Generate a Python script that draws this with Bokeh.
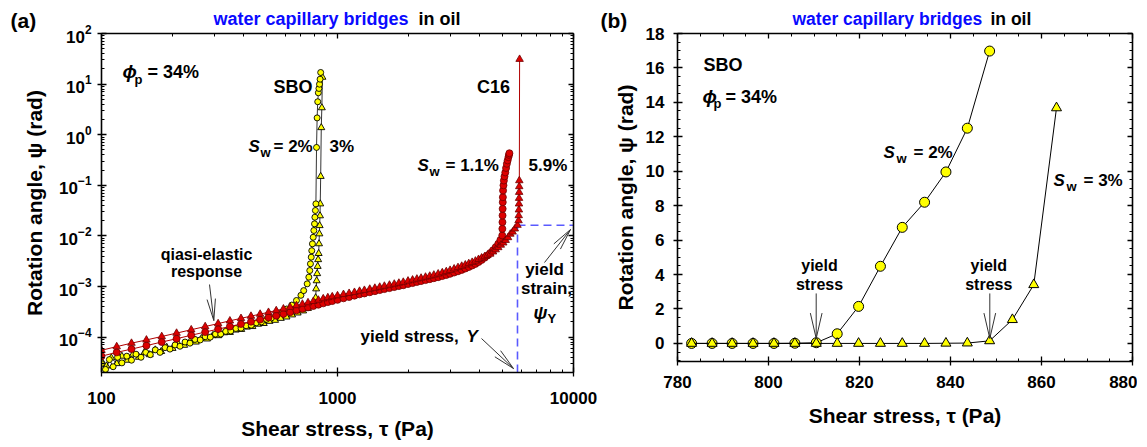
import math
from bokeh.plotting import figure
from bokeh.layouts import row, column
from bokeh.models import (Label, FixedTicker, LogAxis, LinearAxis, LogTickFormatter,
                          BasicTickFormatter, CustomJSTickFormatter, Range1d)
from bokeh.embed import file_html
from bokeh.resources import INLINE

FONT = "Liberation Sans"

# ---------------- data, panel (a): rotation angle vs shear stress (log-log) ----------------
# SBO, S_w = 2 %  (yellow circles)
sbo2_tau = [100, 104, 108, 112, 117, 122, 128, 134, 140, 147,
            154, 161, 169, 177, 186, 195, 205, 215, 226, 237,
            249, 262, 275, 289, 304, 320, 336, 353, 371, 390,
            410, 431, 453, 476, 500, 525, 552, 580, 610, 640,
            670, 700,
            719, 744, 756, 763, 768, 774, 778, 783, 789, 794,
            799, 802, 806, 810,
            815.1, 819.8, 824.6, 829.4, 834.3, 839.0, 843.7, 848.6]
sbo2_psi = [3.0e-5, 2.3e-5, 3.6e-5, 2.6e-5, 4.0e-5, 3.1e-5, 4.2e-5, 3.5e-5, 4.6e-5, 4.0e-5,
            5.0e-5, 4.5e-5, 5.6e-5, 5.0e-5, 6.2e-5, 5.8e-5, 7.0e-5, 6.6e-5, 8.0e-5, 7.6e-5,
            9.0e-5, 8.8e-5, 1.02e-4, 1.0e-4, 1.15e-4, 1.15e-4, 1.3e-4, 1.32e-4, 1.48e-4, 1.5e-4,
            1.68e-4, 1.72e-4, 1.92e-4, 2.0e-4, 2.25e-4, 2.4e-4, 2.7e-4, 3.0e-4, 3.6e-4, 4.3e-4,
            5.3e-4, 6.7e-4,
            8.3e-4, 1.13e-3, 1.53e-3, 2.07e-3, 2.81e-3, 3.8e-3, 5.1e-3, 6.98e-3, 9.4e-3, 1.28e-2,
            1.73e-2, 2.34e-2, 3.18e-2, 4.3e-2,
            0.56, 2.15, 4.48, 6.74, 8.2, 9.96, 12.5, 16.98]

# SBO, S_w = 3 %  (yellow triangles)
sbo3_tau = [100, 105, 110, 116, 122, 129, 136, 144, 152, 160,
            169, 179, 189, 200, 212, 224, 237, 251, 265, 280,
            296, 313, 331, 350, 370, 391, 413, 436, 461, 487,
            515, 544, 575, 608, 642, 678, 715, 750, 780, 800,
            808, 812, 816, 820, 824, 828, 832, 835, 838, 840,
            843, 845, 848.6, 853.6, 858.3, 863.3]
sbo3_psi = [3.4e-5, 2.7e-5, 3.9e-5, 3.0e-5, 4.2e-5, 3.5e-5, 4.6e-5, 4.0e-5, 5.0e-5, 4.5e-5,
            5.6e-5, 5.2e-5, 6.3e-5, 6.0e-5, 7.2e-5, 6.9e-5, 8.2e-5, 8.0e-5, 9.4e-5, 9.2e-5,
            1.07e-4, 1.07e-4, 1.22e-4, 1.24e-4, 1.38e-4, 1.42e-4, 1.58e-4, 1.62e-4, 1.8e-4, 1.86e-4,
            2.05e-4, 2.15e-4, 2.35e-4, 2.5e-4, 2.75e-4, 3.0e-4, 3.3e-4, 3.7e-4, 4.3e-4, 5.2e-4,
            6.0e-4, 9.0e-4, 1.3e-3, 1.8e-3, 2.5e-3, 3.4e-3, 4.5e-3, 7.0e-3, 1.1e-2, 1.6e-2,
            2.5e-2, 4.3e-2, 0.15, 1.38, 3.41, 13.68]

# C16, S_w = 5.9 %  (red triangles)
c16b_tau = [100, 116, 134, 155, 180, 208, 240, 275, 312, 350,
            390, 430, 470, 510, 550, 590, 630, 670, 710, 750,
            790, 830, 870, 910, 950,
            1000, 1060, 1120, 1180, 1240, 1300, 1370, 1440, 1510, 1580,
            1660, 1740, 1820, 1900, 1990, 2080, 2170, 2260, 2360, 2460,
            2560, 2670, 2780, 2890, 3000, 3120, 3240, 3360, 3480, 3600,
            3720, 3840, 3960, 4080, 4200, 4320, 4440, 4560, 4680, 4800,
            4920, 5040, 5160, 5280, 5400, 5520, 5640, 5790,
            5850, 5860, 5870, 5875, 5880, 5885, 5890, 5895,
            5910]
c16b_psi = [5.5e-5, 6.5e-5, 7.6e-5, 8.8e-5, 1.03e-4, 1.2e-4, 1.4e-4, 1.62e-4, 1.85e-4, 2.1e-4,
            2.35e-4, 2.6e-4, 2.85e-4, 3.1e-4, 3.35e-4, 3.62e-4, 3.9e-4, 4.2e-4, 4.5e-4, 4.8e-4,
            5.1e-4, 5.4e-4, 5.75e-4, 6.05e-4, 6.3e-4,
            6.6e-4, 7.0e-4, 7.35e-4, 7.7e-4, 8.1e-4, 8.45e-4, 8.9e-4, 9.3e-4, 9.75e-4, 1.02e-3,
            1.07e-3, 1.12e-3, 1.17e-3, 1.22e-3, 1.29e-3, 1.35e-3, 1.41e-3, 1.47e-3, 1.54e-3, 1.61e-3,
            1.69e-3, 1.78e-3, 1.88e-3, 1.98e-3, 2.1e-3, 2.24e-3, 2.38e-3, 2.53e-3, 2.68e-3, 2.85e-3,
            3.02e-3, 3.2e-3, 3.45e-3, 3.68e-3, 3.9e-3, 4.15e-3, 4.4e-3, 4.85e-3, 5.35e-3, 5.9e-3,
            6.6e-3, 7.3e-3, 8.2e-3, 9.3e-3, 1.09e-2, 1.2e-2, 1.38e-2, 1.63e-2,
            2.01e-2, 2.53e-2, 3.28e-2, 4.3e-2, 5.56e-2, 7.3e-2, 9.46e-2, 1.24e-1,
            31.0]

# C16, S_w = 1.1 %  (red circles)
c16a_tau = [100, 116, 134, 155, 180, 208, 240, 275, 312, 350,
            390, 430, 470, 510, 550, 590, 630, 670, 710, 750,
            790, 830, 870, 910, 950,
            1000, 1060, 1120, 1180, 1240, 1300, 1370, 1440, 1510, 1580,
            1660, 1740, 1820, 1900, 1990, 2080, 2170, 2260, 2360, 2460,
            2560, 2670, 2780, 2890, 3000, 3120, 3240, 3360, 3480, 3600,
            3720, 3840, 3960, 4080, 4200, 4320, 4440, 4560, 4680, 4800,
            4900, 4990,
            4995, 5000, 5005, 5010, 5015, 5020, 5030, 5050, 5070, 5100,
            5140, 5180, 5220, 5260, 5300, 5330, 5350]
c16a_psi = [4.2e-5, 5.0e-5, 5.8e-5, 6.8e-5, 8.0e-5, 9.3e-5, 1.09e-4, 1.26e-4, 1.44e-4, 1.62e-4,
            1.82e-4, 2.02e-4, 2.22e-4, 2.44e-4, 2.66e-4, 2.88e-4, 3.1e-4, 3.38e-4, 3.62e-4, 3.88e-4,
            4.12e-4, 4.37e-4, 4.65e-4, 4.92e-4, 5.15e-4,
            5.45e-4, 5.85e-4, 6.2e-4, 6.6e-4, 7.0e-4, 7.3e-4, 7.7e-4, 8.1e-4, 8.5e-4, 8.9e-4,
            9.3e-4, 9.75e-4, 1.02e-3, 1.06e-3, 1.12e-3, 1.17e-3, 1.23e-3, 1.28e-3, 1.34e-3, 1.4e-3,
            1.46e-3, 1.53e-3, 1.61e-3, 1.69e-3, 1.78e-3, 1.89e-3, 2.0e-3, 2.13e-3, 2.27e-3, 2.43e-3,
            2.6e-3, 2.8e-3, 3.05e-3, 3.35e-3, 3.7e-3, 4.1e-3, 4.6e-3, 5.2e-3, 6.0e-3, 7.0e-3,
            8.3e-3, 1.02e-2,
            1.38e-2, 1.87e-2, 2.53e-2, 3.43e-2, 4.64e-2, 5.82e-2, 7.88e-2, 0.1, 0.124, 0.15,
            0.18, 0.22, 0.266, 0.31, 0.36, 0.40, 0.43]

# yield point of the C16 5.9 % curve (dashed guide lines)
yield_stress_Y = 5790
yield_strain_psiY = 0.0163

# ---------------- data, panel (b): SBO, linear axes ----------------
b2_tau = [783.1, 787.6, 792.0, 796.6, 801.2, 805.8, 810.5, 815.1, 819.8, 824.6,
          829.4, 834.3, 839.0, 843.7, 848.6]
b2_psi = [0.0, 0.0, 0.0, 0.0, 0.0, 0.01, 0.04, 0.56, 2.15, 4.48,
          6.74, 8.2, 9.96, 12.5, 16.98]
b3_tau = [783.1, 787.6, 792.0, 796.6, 801.2, 805.8, 810.5, 815.1, 819.8, 824.6,
          829.4, 834.3, 839.0, 843.7, 848.6, 853.6, 858.3, 863.3]
b3_psi = [0.0, 0.0, 0.0, 0.0, 0.0, 0.0, 0.0, 0.0, 0.0, 0.0,
          0.0, 0.0, 0.01, 0.02, 0.15, 1.38, 3.41, 13.68]

# tick values
a_x_major = [100, 1000, 10000]
a_y_major = [1e-4, 1e-3, 1e-2, 1e-1, 1.0, 10.0, 100.0]
b_x_major = [780, 800, 820, 840, 860, 880]
b_y_major = [0, 2, 4, 6, 8, 10, 12, 14, 16, 18]

a_x_minor = [m * 10.0 ** e for e in (2, 3) for m in range(2, 10)]
a_y_minor = [m * 10.0 ** e for e in range(-5, 2) for m in range(2, 10) if m * 10.0 ** e >= 2e-5]
b_x_minor = list(range(780, 881, 5))
b_y_minor = [v / 2 for v in range(-2, 37)]

YELLOW = "#ffff00"
RED_FILL = "#dd0000"
RED_EDGE = "#700000"
RED_LINE = "#b00000"
BLUE = "#0a0aff"
GUIDE = "#5a5aff"


# placement helpers (reference-pixel position -> data coordinate), for annotations only
def a_x(px):
    return 100 * 10 ** ((px - 101) / 236.0)


def a_y(py):
    return 10 ** (2 - (py - 33) / 50.6)


def b_x(px):
    return 780 + (px - 677) / 4.55


def b_y(py):
    return (342 - py) / 17.22


def ident(v):
    return v


def style_axis(ax):
    ax.axis_line_color = "black"
    ax.axis_line_width = 1.6
    ax.major_tick_line_color = "black"
    ax.major_tick_line_width = 1.3
    ax.minor_tick_line_color = "black"
    ax.minor_tick_line_width = 1
    ax.major_tick_in = 5
    ax.major_tick_out = 4
    ax.minor_tick_in = 3
    ax.minor_tick_out = 0
    ax.major_label_text_font = FONT
    ax.major_label_text_font_style = "bold"
    ax.major_label_text_font_size = "17px"
    ax.major_label_text_color = "black"
    ax.axis_label_text_font = FONT
    ax.axis_label_text_font_style = "bold"
    ax.axis_label_text_font_size = "21px"
    ax.axis_label_text_color = "black"


def mirror_axis(ax):
    style_axis(ax)
    ax.major_tick_out = 0
    ax.major_label_standoff = 0
    ax.major_label_text_font_size = "0px"


def blank_formatter():
    return CustomJSTickFormatter(code="return ''")


def put(p, fx, fy, px, py, text, size=18, style="bold", color="black", align="left"):
    # py is the text baseline in page pixels; the label is anchored at its middle
    p.add_layout(Label(x=fx(px), y=fy(py - 0.36 * size), text=text, text_font=FONT,
                       text_font_size=f"{size}px", text_font_style=style, text_color=color,
                       text_align=align, text_baseline="middle"))


def arrow(p, fx, fy, start, tip, barb=22, ang=11, color="#333333"):
    sx, sy = start
    tx, ty = tip
    dx, dy = tx - sx, ty - sy
    L = math.hypot(dx, dy)
    ux, uy = dx / L, dy / L
    x0, y0, x1, y1 = [sx], [sy], [tx], [ty]
    for s in (1, -1):
        a = math.radians(ang * s)
        bx = tx - barb * (ux * math.cos(a) - uy * math.sin(a))
        by = ty - barb * (ux * math.sin(a) + uy * math.cos(a))
        x0.append(tx); y0.append(ty); x1.append(bx); y1.append(by)
    p.segment(x0=[fx(v) for v in x0], y0=[fy(v) for v in y0],
              x1=[fx(v) for v in x1], y1=[fy(v) for v in y1],
              line_color=color, line_width=1)


# =========================== header strip (panel letters and titles) ===========================
HEADER_H = 33      # height of the title strip
OVERLAP = 16       # the plot row is pulled up under the (transparent) top borders
ROW_TOP = HEADER_H - OVERLAP

hdr = figure(width=1140, height=HEADER_H, x_range=Range1d(0, 1140), y_range=Range1d(HEADER_H, 0),
             min_border=0, min_border_left=0, min_border_right=0, min_border_top=0, min_border_bottom=0,
             x_axis_location=None, y_axis_location=None,
             output_backend="svg", toolbar_location=None, title=None)
hdr.grid.visible = False
hdr.outline_line_color = None
hdr.background_fill_color = "white"
hdr.border_fill_color = "white"
put(hdr, ident, ident, 10, 28, "(a)", size=21)
put(hdr, ident, ident, 213, 25, "water capillary bridges", size=18, color=BLUE)
put(hdr, ident, ident, 418, 25, "in oil", size=18)
put(hdr, ident, ident, 600, 28, "(b)", size=21)
put(hdr, ident, ident, 792, 25, "water capillary bridges", size=17.5, color=BLUE)
put(hdr, ident, ident, 990, 25, "in oil", size=17.5)

# =========================== panel (a) ===========================
p1 = figure(x_axis_type="log", y_axis_type="log",
            x_range=Range1d(100, 10000), y_range=Range1d(2e-5, 100),
            frame_width=472, frame_height=339,
            min_border_left=101, min_border_right=27, min_border_top=33 - ROW_TOP,
            min_border_bottom=74,
            output_backend="svg", toolbar_location=None, title=None)
p1.grid.visible = False
p1.outline_line_color = None
p1.background_fill_color = "white"
p1.border_fill_color = None

xa = p1.xaxis[0]
xa.ticker = FixedTicker(ticks=a_x_major, minor_ticks=a_x_minor)
xa.formatter = BasicTickFormatter(use_scientific=False)
style_axis(xa)
xa.major_label_standoff = 15
xa.axis_label = "Shear stress, \u03c4 (Pa)"
xa.axis_label_standoff = 10

ya = p1.yaxis[0]
ya.ticker = FixedTicker(ticks=a_y_major, minor_ticks=a_y_minor)
ya.formatter = LogTickFormatter()
style_axis(ya)
ya.major_label_standoff = 6
ya.axis_label = "Rotation angle, \u03c8 (rad)"
ya.axis_label_standoff = 10

top_a = LogAxis(ticker=FixedTicker(ticks=a_x_major, minor_ticks=a_x_minor), formatter=blank_formatter())
mirror_axis(top_a)
p1.add_layout(top_a, "above")
right_a = LogAxis(ticker=FixedTicker(ticks=a_y_major, minor_ticks=a_y_minor), formatter=blank_formatter())
mirror_axis(right_a)
p1.add_layout(right_a, "right")

# yield guide lines
p1.line([yield_stress_Y, yield_stress_Y], [2e-5, yield_strain_psiY], line_color=GUIDE,
        line_width=1.6, line_dash="8 5")
p1.line([yield_stress_Y, 10000], [yield_strain_psiY, yield_strain_psiY], line_color=GUIDE,
        line_width=1.6, line_dash="8 5")

# SBO series
p1.line(sbo3_tau, sbo3_psi, line_color="black", line_width=0.8)
p1.scatter(sbo3_tau, sbo3_psi, marker="triangle", size=7, fill_color=YELLOW,
           line_color="black", line_width=0.9)
p1.line(sbo2_tau, sbo2_psi, line_color="black", line_width=0.8)
p1.scatter(sbo2_tau, sbo2_psi, marker="circle", size=6, fill_color=YELLOW,
           line_color="black", line_width=0.9)
# C16 series
p1.line(c16a_tau, c16a_psi, line_color=RED_LINE, line_width=1)
p1.scatter(c16a_tau, c16a_psi, marker="circle", size=7, fill_color=RED_FILL,
           line_color=RED_EDGE, line_width=0.8)
p1.line(c16b_tau, c16b_psi, line_color=RED_LINE, line_width=1)
p1.scatter(c16b_tau, c16b_psi, marker="triangle", size=7.5, fill_color=RED_FILL,
           line_color=RED_EDGE, line_width=0.8)

# annotations (a)
put(p1, a_x, a_y, 122, 78, "\u03d5", size=19, style="bold italic")
put(p1, a_x, a_y, 134, 84, "p", size=13)
put(p1, a_x, a_y, 147, 78, "= 34%", size=18)
put(p1, a_x, a_y, 292.5, 92.5, "SBO", size=18, align="center")
put(p1, a_x, a_y, 493, 92.5, "C16", size=18, align="center")
put(p1, a_x, a_y, 248, 152, "S", size=17, style="bold italic")
put(p1, a_x, a_y, 260, 157, "w", size=13)
put(p1, a_x, a_y, 273, 152, "= 2%", size=17)
put(p1, a_x, a_y, 329, 152, "3%", size=17)
put(p1, a_x, a_y, 417, 171, "S", size=17, style="bold italic")
put(p1, a_x, a_y, 429, 176, "w", size=13)
put(p1, a_x, a_y, 445, 171, "= 1.1%", size=17)
put(p1, a_x, a_y, 528, 171, "5.9%", size=17)
put(p1, a_x, a_y, 206, 260, "qiasi-elastic", size=16, align="center")
put(p1, a_x, a_y, 206, 277, "response", size=16, align="center")
arrow(p1, a_x, a_y, (209, 284), (213.3, 320))
put(p1, a_x, a_y, 360, 342, "yield stress, ", size=17)
put(p1, a_x, a_y, 466, 342, "Y", size=17, style="bold italic")
arrow(p1, a_x, a_y, (481, 338), (513, 368))
put(p1, a_x, a_y, 544, 275, "yield", size=17, align="center")
put(p1, a_x, a_y, 546, 294, "strain,", size=17, align="center")
put(p1, a_x, a_y, 533, 319, "\u03c8", size=18, style="bold italic")
put(p1, a_x, a_y, 547, 323, "Y", size=13)
arrow(p1, a_x, a_y, (544, 262), (570, 229))

# =========================== panel (b) ===========================
p2 = figure(x_range=Range1d(780, 880), y_range=Range1d(-1.05, 18),
            frame_width=455, frame_height=328,
            min_border_left=77, min_border_right=5, min_border_top=32 - ROW_TOP,
            min_border_bottom=86,
            output_backend="svg", toolbar_location=None, title=None)
p2.grid.visible = False
p2.outline_line_color = None
p2.background_fill_color = "white"
p2.border_fill_color = None

xb = p2.xaxis[0]
xb.ticker = FixedTicker(ticks=b_x_major, minor_ticks=b_x_minor)
style_axis(xb)
xb.major_label_standoff = 10
xb.axis_label = "Shear stress, \u03c4 (Pa)"
xb.axis_label_standoff = 13

yb = p2.yaxis[0]
yb.ticker = FixedTicker(ticks=b_y_major, minor_ticks=b_y_minor)
style_axis(yb)
yb.major_label_standoff = 9
yb.axis_label = "Rotation angle, \u03c8 (rad)"
yb.axis_label_standoff = 6

top_b = LinearAxis(ticker=FixedTicker(ticks=b_x_major, minor_ticks=b_x_minor), formatter=blank_formatter())
mirror_axis(top_b)
p2.add_layout(top_b, "above")
right_b = LinearAxis(ticker=FixedTicker(ticks=b_y_major, minor_ticks=b_y_minor), formatter=blank_formatter())
mirror_axis(right_b)
p2.add_layout(right_b, "right")

p2.line(b2_tau, b2_psi, line_color="black", line_width=1)
p2.scatter(b2_tau, b2_psi, marker="circle", size=10, fill_color=YELLOW,
           line_color="black", line_width=1)
p2.line(b3_tau, b3_psi, line_color="black", line_width=1)
p2.scatter(b3_tau, b3_psi, marker="triangle", size=10, fill_color=YELLOW,
           line_color="black", line_width=1)

put(p2, b_x, b_y, 703, 70, "SBO", size=18)
put(p2, b_x, b_y, 702, 102, "\u03d5", size=19, style="bold italic")
put(p2, b_x, b_y, 713, 107, "p", size=13)
put(p2, b_x, b_y, 725, 102, "= 34%", size=18)
put(p2, b_x, b_y, 883, 157, "S", size=17, style="bold italic")
put(p2, b_x, b_y, 896, 162, "w", size=13)
put(p2, b_x, b_y, 913, 157, "= 2%", size=17)
put(p2, b_x, b_y, 1053, 185, "S", size=17, style="bold italic")
put(p2, b_x, b_y, 1066, 190, "w", size=13)
put(p2, b_x, b_y, 1083, 185, "= 3%", size=17)
put(p2, b_x, b_y, 819, 270, "yield", size=16, align="center")
put(p2, b_x, b_y, 819, 289, "stress", size=16, align="center")
arrow(p2, b_x, b_y, (815.7, 292), (815.7, 337), barb=26, ang=13)
put(p2, b_x, b_y, 988.3, 270, "yield", size=16, align="center")
put(p2, b_x, b_y, 988.3, 289, "stress", size=16, align="center")
arrow(p2, b_x, b_y, (989.3, 292), (989.3, 337), barb=26, ang=13)

plots = row(p1, p2, margin=(-OVERLAP, 0, 0, 0))
layout = column(hdr, plots)
open("out.html", "w").write(file_html(layout, INLINE))
